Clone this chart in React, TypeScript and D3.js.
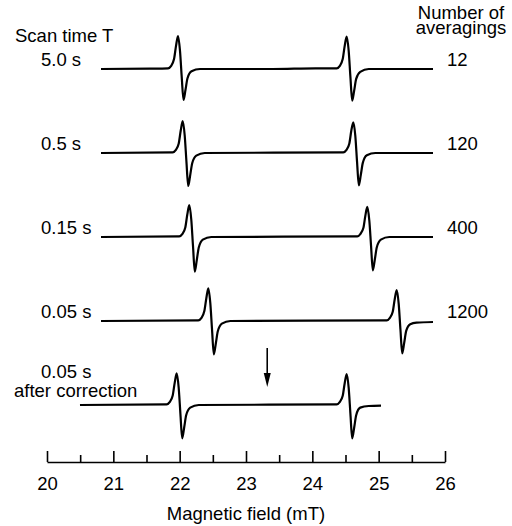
import React, { useEffect, useRef } from 'react'
import * as d3 from 'd3'

// labels
const scanTimes = ['5.0 s', '0.5 s', '0.15 s', '0.05 s', '0.05 s']
const averagings = ['12', '120', '400', '1200', '']
const fieldTicks = [20, 21, 22, 23, 24, 25, 26]
const minorTicks = [20.5, 21.5, 22.5, 23.5, 24.5, 25.5]
const arrowField = 23.32

// [magnetic field (mT), signal (a.u.)]
const trace1 = [
  [20.814, 0], [21.55, 0.01], [21.824, 0.02], [21.869, 0.09], [21.915, 0.3], [21.945, 0.7], [21.975, 1.0],
  [22.005, 0.55], [22.031, -0.24], [22.058, -0.94], [22.088, -0.63], [22.118, -0.28], [22.179, -0.07],
  [22.307, 0], [23.4, 0], [24.05, 0.02], [24.367, 0.02], [24.412, 0.09], [24.458, 0.3], [24.488, 0.7],
  [24.518, 0.98], [24.548, 0.55], [24.574, -0.24], [24.601, -0.96], [24.631, -0.65], [24.661, -0.3],
  [24.722, -0.09], [24.85, 0], [25.819, 0],
]
const trace2 = [
  [20.814, 0], [21.895, 0.02], [21.94, 0.09], [21.986, 0.29], [22.016, 0.68], [22.046, 0.97],
  [22.076, 0.53], [22.102, -0.26], [22.129, -1.0], [22.159, -0.67], [22.189, -0.31], [22.25, -0.08],
  [22.378, 0], [24.467, 0.02], [24.512, 0.09], [24.558, 0.29], [24.588, 0.68], [24.618, 0.93],
  [24.648, 0.52], [24.674, -0.26], [24.701, -0.98], [24.731, -0.66], [24.761, -0.3], [24.822, -0.07],
  [24.95, 0], [25.819, 0],
]
const trace3 = [
  [20.814, 0], [21.994, 0.02], [22.039, 0.09], [22.085, 0.29], [22.115, 0.68], [22.145, 0.97],
  [22.175, 0.53], [22.201, -0.27], [22.228, -1.05], [22.258, -0.7], [22.288, -0.32], [22.349, -0.08],
  [22.477, 0], [24.678, 0.02], [24.723, 0.09], [24.769, 0.27], [24.799, 0.64], [24.829, 0.91],
  [24.859, 0.5], [24.885, -0.26], [24.912, -1.01], [24.942, -0.68], [24.972, -0.31], [25.033, -0.08],
  [25.161, 0], [25.819, 0],
]
const trace4 = [
  [20.814, 0], [22.281, 0.02], [22.326, 0.09], [22.372, 0.3], [22.402, 0.69], [22.432, 0.99],
  [22.462, 0.54], [22.488, -0.26], [22.515, -1.01], [22.545, -0.68], [22.575, -0.31], [22.636, -0.08],
  [22.764, 0], [25.121, 0.02], [25.166, 0.09], [25.212, 0.28], [25.242, 0.66], [25.272, 0.94],
  [25.302, 0.52], [25.328, -0.25], [25.355, -0.98], [25.385, -0.66], [25.415, -0.3], [25.476, -0.1],
  [25.57, -0.05], [25.819, -0.03],
]
const trace5 = [
  [20.497, 0], [21.804, 0.02], [21.849, 0.09], [21.895, 0.29], [21.925, 0.67], [21.955, 0.96],
  [21.985, 0.53], [22.011, -0.26], [22.038, -1.01], [22.068, -0.68], [22.098, -0.31], [22.159, -0.08],
  [22.287, 0], [24.367, 0.02], [24.412, 0.09], [24.458, 0.28], [24.488, 0.66], [24.518, 0.94],
  [24.548, 0.52], [24.574, -0.26], [24.601, -1.01], [24.631, -0.68], [24.661, -0.31], [24.722, -0.08],
  [24.85, -0.03], [25.035, -0.02],
]
const traces = [trace1, trace2, trace3, trace4, trace5]

const FONT = 'Liberation Sans, Arial, Helvetica, sans-serif'

export default function App() {
  const ref = useRef<SVGSVGElement>(null)

  useEffect(() => {
    const svg = d3.select(ref.current)
    svg.selectAll('*').remove()

    // field scale and stacked rows
    const x = d3.scaleLinear().domain([20, 26]).range([47, 445])
    const rows = d3.scalePoint<number>().domain(d3.range(traces.length)).range([69, 405])
    const amp = d3.scaleLinear().domain([-1, 1]).range([33, -33])

    traces.forEach((data, i) => {
      const base = rows(i) as number
      const pathLine = d3.line<number[]>()
        .x(d => x(d[0]))
        .y(d => base + amp(d[1]))
        .curve(d3.curveMonotoneX)
      svg.append('path')
        .datum(data)
        .attr('fill', 'none')
        .attr('stroke', '#000')
        .attr('stroke-width', 2.2)
        .attr('stroke-linejoin', 'round')
        .attr('d', pathLine)

      // last row's label sits above the trace, two lines
      const isLast = i === traces.length - 1
      svg.append('text')
        .attr('x', 41).attr('y', isLast ? base - 27 : base - 3)
        .text(scanTimes[i])
      if (averagings[i]) {
        svg.append('text')
          .attr('x', 447).attr('y', base - 3)
          .text(averagings[i])
      }
    })

    svg.append('text').attr('x', 15).attr('y', 42).text('Scan time T')
    svg.append('text').attr('x', 14).attr('y', 397).text('after correction')
    svg.append('text').attr('x', 461).attr('y', 19).attr('text-anchor', 'middle').text('Number of')
    svg.append('text').attr('x', 461).attr('y', 34).attr('text-anchor', 'middle').text('averagings')

    // arrow
    const ax = x(arrowField)
    svg.append('line')
      .attr('x1', ax).attr('x2', ax).attr('y1', 348).attr('y2', 376)
      .attr('stroke', '#000').attr('stroke-width', 1.6)
    svg.append('path')
      .attr('d', `M${ax - 3.5},373L${ax + 3.5},373L${ax},387Z`)
      .attr('fill', '#000')

    // axis
    const axisG = svg.append('g')
      .attr('transform', 'translate(0,462)')
      .call(d3.axisBottom(x).tickValues(fieldTicks).tickFormat(d3.format('d')).tickSizeInner(-11).tickSizeOuter(0).tickPadding(15))
    axisG.attr('font-size', 18.5).attr('font-family', FONT)
    axisG.selectAll('path, line').attr('stroke-width', 1.6)

    const minorG = svg.append('g')
      .attr('transform', 'translate(0,462)')
      .call(d3.axisBottom(x).tickValues(minorTicks).tickSize(-7).tickFormat(() => ''))
    minorG.select('.domain').remove()
    minorG.selectAll('line').attr('stroke-width', 1.6)

    svg.append('text')
      .attr('x', 246).attr('y', 520)
      .attr('text-anchor', 'middle')
      .text('Magnetic field (mT)')
  }, [])

  return (
    <svg
      ref={ref}
      width={512}
      height={526}
      fontFamily={FONT}
      fontSize={18.5}
      style={{ position: 'absolute', left: 0, top: 0, background: '#fff' }}
    />
  )
}
